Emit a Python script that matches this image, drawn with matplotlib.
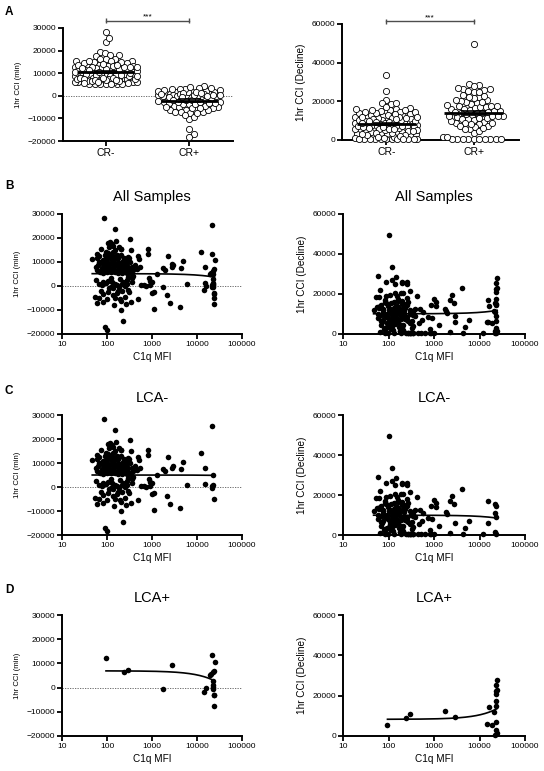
import numpy as np
import matplotlib.pyplot as plt

plt.rcParams['font.family'] = ['Liberation Sans', 'DejaVu Sans']

# ---- values ----
# LCA- samples: C1q MFI, 1hr CCI (min) and 1hr CCI (decline), same order in each list
lca_neg_mfi = [
    47, 87, 151, 324, 158, 103, 117, 127, 112, 133,
    187, 203, 72, 61, 68, 70, 57, 64, 76, 76,
    83, 90, 95, 98, 107, 117, 121, 127, 133, 138,
    145, 158, 164, 172, 179, 187, 195, 212, 221, 241,
    251, 274, 298, 310, 324, 385, 353, 98, 83, 70,
    59, 117, 151, 179, 251, 274, 298, 231, 107, 90,
    80, 138, 102, 112, 130, 150, 165, 200, 200, 345,
    260, 290, 340, 60, 66, 88, 125, 140, 185, 230,
    160, 108, 95, 205, 120,
    54, 61, 66, 80, 83, 107, 112, 121, 138, 151,
    195, 203, 200, 231, 90, 98, 179, 187, 251, 274,
    298, 310, 340, 251, 164, 148, 127, 107, 95, 83,
    76, 68, 138, 212, 231, 274, 353, 353, 385, 140,
    260, 58, 100, 170, 220, 300, 120, 190, 75,
    420, 456, 480, 520, 540, 560, 500, 650, 720, 810,
    820, 870, 900, 880, 1000, 1000, 1120, 1080, 1300, 1800,
    1900, 2250, 2200, 2500, 2900, 2800, 4100, 4300, 4900, 5900,
    12000,
    15000, 15000, 22000, 23000, 22000, 21500, 23500, 23000,
]
lca_neg_min = [
    11100, 28200, 23600, 19600, 18750, 18000, 18200, 17400, 16400, 16500,
    16100, 15300, 15400, 11500, 12600, 10100, 8050, 8750, 9450, 7360,
    10800, 12900, 14300, 11800, 13600, 11500, 9450, 7360, 10400, 14300,
    12200, 8750, 6650, 11500, 10100, 8050, 6650, 5270, 9450, 11500,
    8050, 10800, 12200, 11500, 10100, 6650, 8050, 5970, 5270, 5970,
    6650, 6250, 5970, 5270, 5970, 5270, 8050, 7360, 8050, 8750,
    6650, 7360, 10100, 9000, 12000, 15000, 13000, 12800, 15600, 15000,
    9200, 6200, 5600, 13400, 9800, 7300, 6000, 9000, 12600, 10600,
    11800, 6800, 9600, 8800, 13000,
    -4400, -7200, -5100, -3500, -6500, -2600, -1000, -300, -3750, -5100,
    -5400, -6300, -10200, -14600, -17000, -18300, -2100, -300, 100, 700,
    -1700, -2600, -6500, -4400, 400, 1000, 1500, 2100, 1100, 1500,
    400, 1000, -1000, 800, 1800, 2500, 1500, 3200, 4300, -7800,
    -7300, 2600, -5300, -3000, -2000, 3800, 3500, 3000, -2200,
    8750, 6950, 12700, 11200, 8050, 400, -5600, 300, 0, 15300,
    13500, 3500, 2100, 400, 1500, -3100, -2600, -9400, 5000, 7600,
    6800, 12600, -3600, -7200, 8600, 8000, -8600, 7400, 10300, 800,
    14200,
    7900, 1100, 25400, 5100, -300, 300, -5100, 1000,
]
lca_neg_decline = [
    12000, 9000, 14000, 6500, 11000, 4000, 33700, 8000, 2500, 16000,
    7500, 25500, 6000, 18500, 9500, 4500, 13500, 1000, 7000, 11000,
    3000, 15500, 8500, 500, 12500, 6000, 9500, 2000, 13000, 5000,
    10500, 16500, 7500, 3500, 12000, 20500, 9000, 4500, 11500, 300,
    14500, 6500, 300, 10000, 3000, 12500, 300, 8000, 500, 14500,
    10000, 4000, 11500, 1500, 8500, 16000, 5500, 13000, 7000, 19000,
    2500, 9000, 12000, 5000, 300, 10500, 6000, 15000, 3500, 9500,
    7000, 12000, 4000, 8000, 14000, 3000, 11000, 7500, 1000, 9000,
    13500, 6500, 10000, 2000, 5500,
    18500, 13000, 22000, 9500, 17000, 5500, 15500, 11000, 24800, 19000,
    12500, 25800, 16500, 7500, 26200, 14000, 1500, 300, 26200, 300,
    21500, 300, 10500, 25000, 17500, 28700, 8500, 19500, 3500, 16000,
    12000, 6500, 20500, 20300, 14500, 300, 11500, 300, 9000, 13500,
    18000, 29000, 49500, 10000, 15000, 500, 27000, 4500, 12500,
    19200, 300, 5300, 300, 7000, 11000, 12500, 300, 8700, 300,
    2500, 14500, 8200, 300, 300, 17500, 16200, 14000, 4500, 11500,
    10300, 1200, 17000, 19500, 6200, 15700, 23200, 700, 3700, 7000,
    500,
    17200, 6000, 15300, 14500, 11200, 1300, 9000, 700,
]

# LCA+ samples
lca_pos_mfi = [95, 240, 300, 1750, 2850, 14500, 16000, 19000, 21000, 22000,
               23000, 23000, 23000, 24000, 23500, 24000, 24500, 23500, 23000, 22500]
lca_pos_min = [12400, 6500, 7200, -400, 9300, -1800, 0, 5100, 5600, 13500,
               6300, 2800, -400, -2900, -3200, -7400, 10700, 7000, 1200, 400]
lca_pos_decline = [5500, 8700, 10700, 12500, 9200, 5800, 14200, 5500, 11700, 500,
                   6700, 15000, 22500, 23000, 25300, 28000, 1500, 3000, 17500, 20800]

# straight line fits y = a + b * MFI (All Samples, LCA-, LCA+)
fit_min_a = [5140, 5000, 6920]
fit_min_b = [-0.0595, -0.006, -0.168]
fit_decline_a = [10100, 9900, 8280]
fit_decline_b = [0.071, -0.06, 0.218]

cr_cutoff = 5000  # CR+ : 1hr CCI (min) below 5000
group_names = ['CR-', 'CR+']
titles = ['All Samples', 'LCA-', 'LCA+']

W, H = 544, 771
fig = plt.figure(figsize=(W / 100, H / 100), dpi=100)


def add_axes(x0, x1, top, bottom):
    return fig.add_axes([x0 / W, 1 - bottom / H, (x1 - x0) / W, (bottom - top) / H])


def style(ax):
    for s in ['top', 'right']:
        ax.spines[s].set_visible(False)
    for s in ['left', 'bottom']:
        ax.spines[s].set_linewidth(1.4)
    ax.tick_params(direction='out', length=3.5, width=1.3, labelsize=6, pad=1.5)


def swarm_offsets(ypx, d=5.2, half_width=31):
    """beeswarm offsets in pixels; points may overlap once the band is full"""
    cand = np.arange(0.5, half_width + 0.01, 0.5)
    cand = np.concatenate([[0.0], np.column_stack([cand, -cand]).ravel()])
    px, py = [], []
    offs = np.zeros(len(ypx))
    for i in np.argsort(ypx):
        y = ypx[i]
        ax_ = np.array(px)
        ay = np.array(py)
        near = np.abs(ay - y) < d if len(ay) else np.zeros(0, bool)
        best, best_gap = 0.0, -1.0
        for c in cand:
            gap = np.min(np.hypot(ax_[near] - c, ay[near] - y)) if near.any() else np.inf
            if gap >= d:
                best = c
                break
            if gap > best_gap + 1e-9:
                best_gap, best = gap, c
        offs[i] = best
        px.append(best)
        py.append(y)
    return offs


def dot_plot(ax, groups, ylim, yticks, ylabel, label_size, sig_y):
    style(ax)
    xlim = (-0.51, 1.52)
    ax.set_xlim(*xlim)
    ax.set_ylim(*ylim)
    box = ax.get_position()
    px_x = box.width * W / (xlim[1] - xlim[0])
    px_y = box.height * H / (ylim[1] - ylim[0])
    for i, vals in enumerate(groups):
        vals = np.asarray(vals, float)
        xs = i + swarm_offsets(vals * px_y) / px_x
        ax.scatter(xs, vals, s=20, facecolor='white', edgecolor='black',
                   linewidth=0.6, zorder=3, clip_on=False)
        m = vals.mean()
        sem = vals.std(ddof=1) / np.sqrt(len(vals))
        ax.hlines(m, i - 0.34, i + 0.34, color='black', lw=2, zorder=4)
        ax.vlines(i, m - sem, m + sem, color='black', lw=1.2, zorder=4)
        ax.hlines([m - sem, m + sem], i - 0.14, i + 0.14, color='black', lw=1.2, zorder=4)
    ax.set_xticks([0, 1], group_names, fontsize=7.5)
    ax.set_yticks(yticks)
    ax.set_ylabel(ylabel, fontsize=label_size, labelpad=4)
    cap = 2.5 / px_y
    ax.plot([0, 1], [sig_y, sig_y], color='0.3', lw=1, clip_on=False)
    ax.vlines([0, 1], sig_y - cap, sig_y + cap, color='0.3', lw=1, clip_on=False)
    ax.text(0.5, sig_y + cap * 0.2, '***', ha='center', va='bottom', fontsize=6)


def scatter_panel(ax, mfi, cci, a, b, ylim, yticks, ylabel, label_size, title, zero_line):
    style(ax)
    if zero_line:
        ax.axhline(0, color='0.35', lw=0.6, ls=(0, (1.5, 1.5)), zorder=1)
    ax.scatter(mfi, cci, s=16, color='black', linewidth=0, zorder=3, clip_on=False)
    xs = np.logspace(np.log10(min(mfi)), np.log10(max(mfi)), 200)
    ax.plot(xs, a + b * xs, color='black', lw=1.2, zorder=4)
    ax.set_xscale('log')
    ax.set_xlim(10, 100000)
    ax.set_xticks([10, 100, 1000, 10000, 100000], ['10', '100', '1000', '10000', '100000'])
    ax.minorticks_off()
    ax.set_ylim(*ylim)
    ax.set_yticks(yticks)
    ax.set_xlabel('C1q MFI', fontsize=7.2, labelpad=3)
    ax.set_ylabel(ylabel, fontsize=label_size, labelpad=4)
    ax.set_title(title, fontsize=10.5, pad=9)


all_mfi = lca_neg_mfi + lca_pos_mfi
all_min = np.array(lca_neg_min + lca_pos_min, float)
all_decline = np.array(lca_neg_decline + lca_pos_decline, float)
cr_pos = all_min < cr_cutoff

min_ticks = [-20000, -10000, 0, 10000, 20000, 30000]
dec_ticks = [0, 20000, 40000, 60000]

# panel A
ax = add_axes(63, 233, 28, 141)
dot_plot(ax, [all_min[~cr_pos], all_min[cr_pos]], (-20000, 30000), min_ticks,
         '1hr CCI (min)', 5.6, 33100)
ax.axhline(0, color='0.35', lw=0.6, ls=(0, (1.5, 1.5)), zorder=1)
ax = add_axes(342, 519, 24, 140)
dot_plot(ax, [all_decline[~cr_pos], all_decline[cr_pos]], (0, 60000), dec_ticks,
         '1hr CCI (Decline)', 7.2, 61300)

# panels B-D
sets = [(all_mfi, all_min, all_decline),
        (lca_neg_mfi, lca_neg_min, lca_neg_decline),
        (lca_pos_mfi, lca_pos_min, lca_pos_decline)]
rows_px = [(214, 334), (415, 535), (615, 736)]
for k, (mfi, cmin, cdec) in enumerate(sets):
    top, bottom = rows_px[k]
    ax = add_axes(62, 242, top, bottom)
    scatter_panel(ax, mfi, cmin, fit_min_a[k], fit_min_b[k], (-20000, 30000), min_ticks,
                  '1hr CCI (min)', 5.6, titles[k], True)
    ax = add_axes(343, 525, top, bottom)
    scatter_panel(ax, mfi, cdec, fit_decline_a[k], fit_decline_b[k], (0, 60000), dec_ticks,
                  '1hr CCI (Decline)', 7.2, titles[k], False)

for letter, y in zip('ABCD', [12, 186, 391, 590]):
    fig.text(9 / W, 1 - y / H, letter, fontsize=8.5, fontweight='bold', ha='center', va='center')

fig.savefig('out.png', dpi=100)
